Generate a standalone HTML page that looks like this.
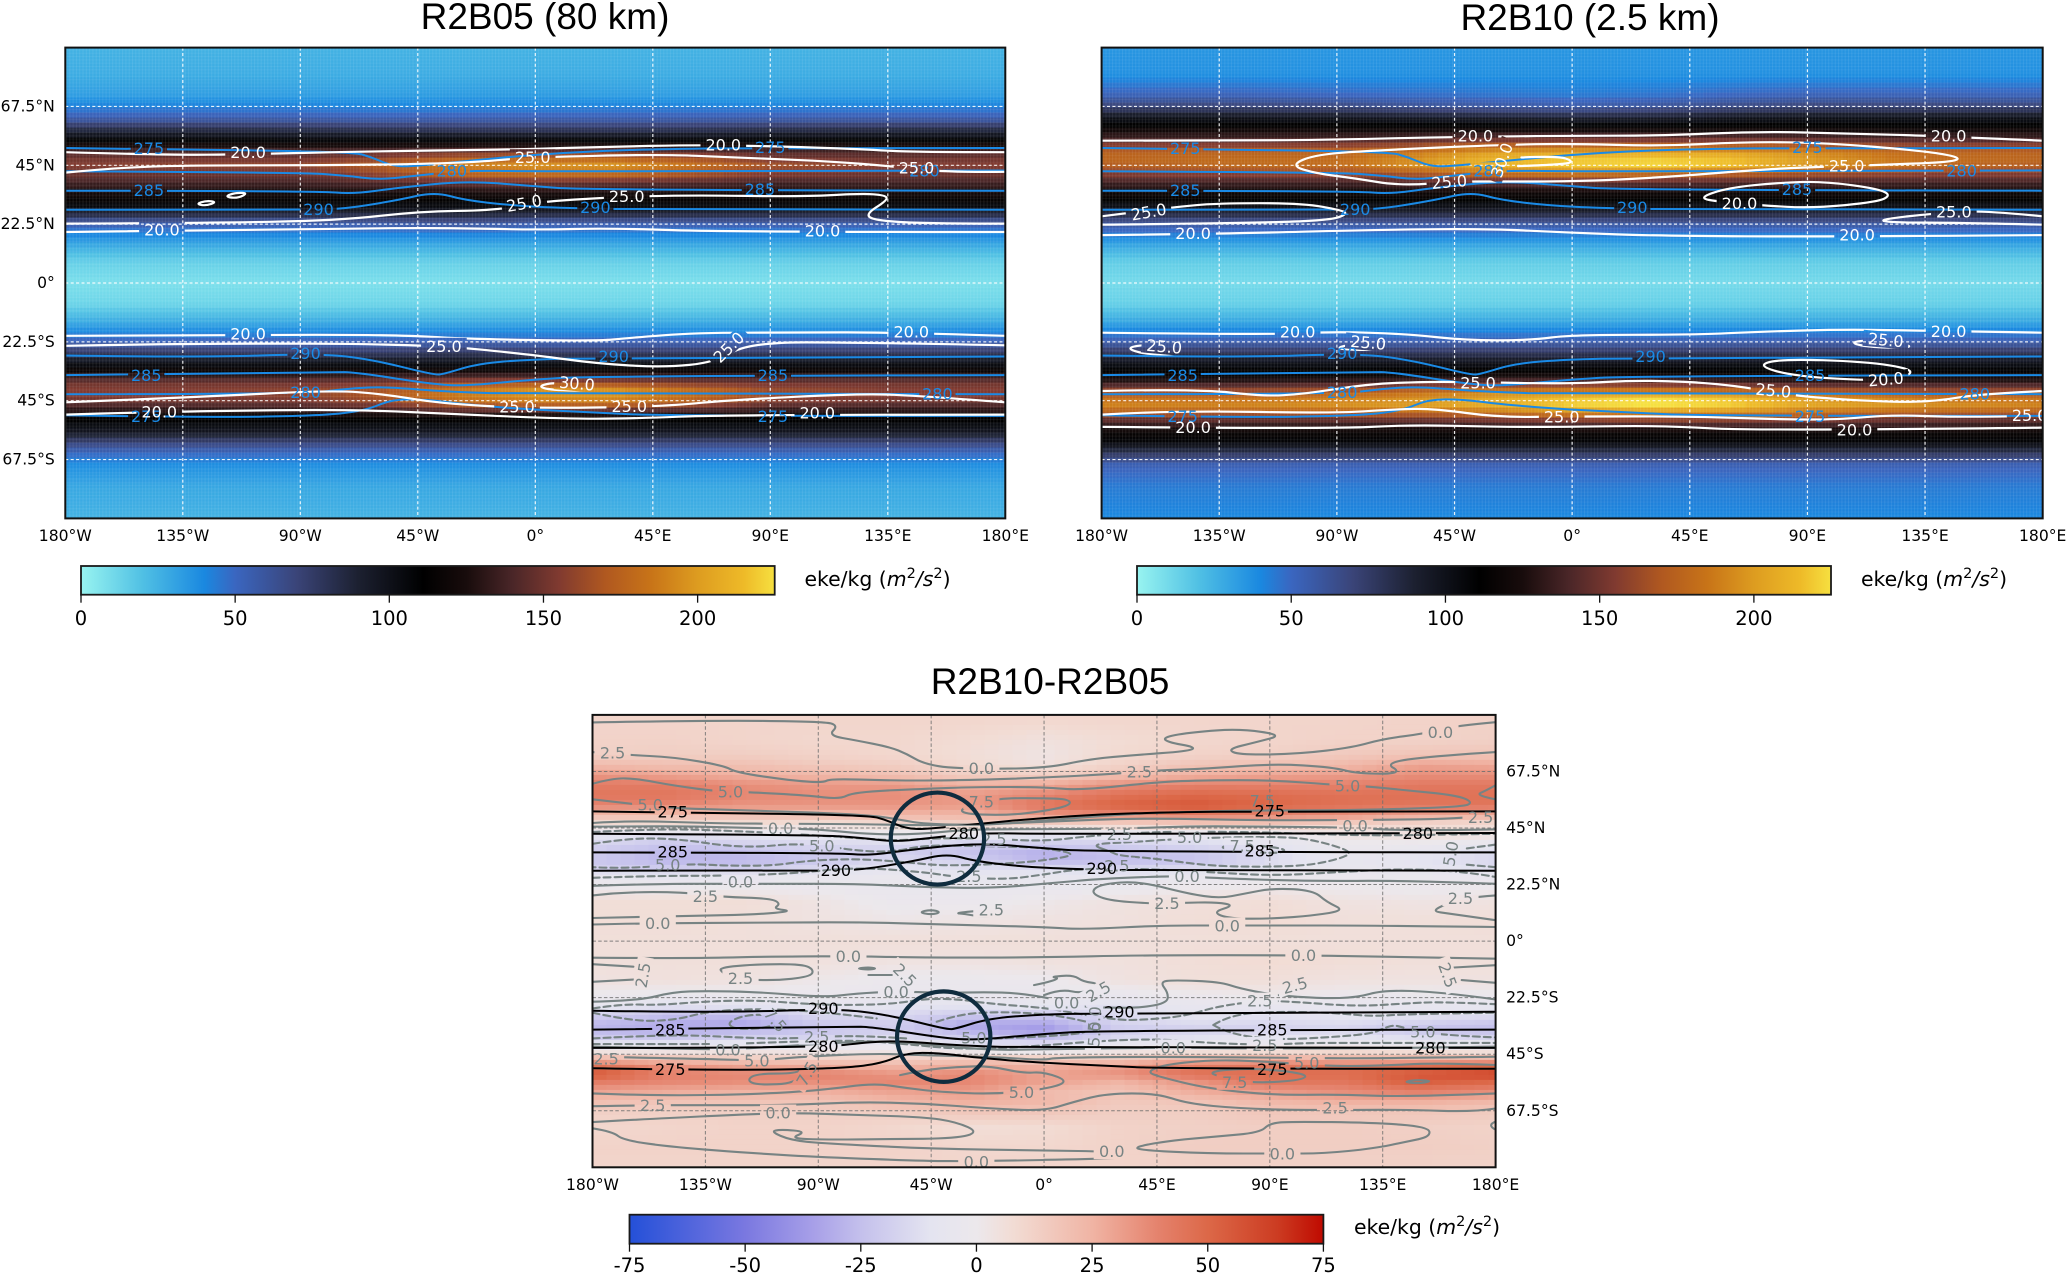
<!DOCTYPE html>
<html lang="en">
<head>
<meta charset="utf-8">
<title>EKE comparison R2B05 and R2B10</title>
<style>
html,body{margin:0;padding:0;background:#fff;}
body{width:2067px;height:1274px;overflow:hidden;}
svg{display:block;}
text{font-family:"DejaVu Sans","Liberation Sans",sans-serif;}
.title{font-family:"Liberation Sans",sans-serif;font-size:37px;fill:#000;text-anchor:middle;}
</style>
</head>
<body>
<svg id="figure" xmlns="http://www.w3.org/2000/svg" width="2067" height="1274" viewBox="0 0 2067 1274">
  <defs id="defs">
    <pattern id="mesh-lattice" patternUnits="userSpaceOnUse" width="3.3" height="3.3">
      <rect x="0" y="0" width="1" height="3.3" fill="#ffffff" fill-opacity="0.08"></rect>
      <rect x="0" y="0" width="3.3" height="1" fill="#ffffff" fill-opacity="0.05"></rect>
    </pattern>
  </defs>
  <rect width="2067" height="1274" fill="#fff"></rect>
  <text class="title" x="545" y="29">R2B05 (80 km)</text>
  <text class="title" x="1590" y="30">R2B10 (2.5 km)</text>
  <text class="title" x="1050" y="694">R2B10-R2B05</text>
</svg>
<script>
/* ---------- shared tick labels ---------- */
const lonTicks = [-180,-135,-90,-45,0,45,90,135,180];
const lonTickLabels = ['180°W','135°W','90°W','45°W','0°','45°E','90°E','135°E','180°E'];
const latTicks = [67.5,45,22.5,0,-22.5,-45,-67.5];
const latTickLabels = ['67.5°N','45°N','22.5°N','0°','22.5°S','45°S','67.5°S'];
const ekeBarTicks = [0,50,100,150,200];
const diffBarTicks = [-75,-50,-25,0,25,50,75];

/* ---------- colour scales (value, colour) ---------- */
const ekeStops = [[0,'#98f4f0'],[20,'#50c0e4'],[40,'#1a88e0'],[50,'#3a66c0'],[70,'#3a4478'],[90,'#1c2030'],[111,'#000000'],[125,'#180c0c'],[140,'#4a2628'],[155,'#803a30'],[170,'#b05820'],[185,'#c87418'],[200,'#dd9c20'],[215,'#eeba28'],[225,'#f6e040']];
const diffStops = [[-75,'#2450d8'],[-50,'#7a78e0'],[-35,'#a8a0e8'],[-25,'#c4c0ec'],[-10,'#e4e4f0'],[0,'#ece8ec'],[8,'#f2dcd4'],[25,'#f0b4a4'],[40,'#e4806a'],[50,'#dc6848'],[65,'#cc3c22'],[75,'#bf0a00']];

/* ---------- EKE fields: rows = ekeLats, columns = ekeLons ---------- */
const ekeLons = [-180,-135,-90,-60,-30,0,30,60,90,135,180];
const ekeLats = [90,80,72,67.5,63,59,55,51,48,45,42,39,35,31,27,23,19,14,8,0,-8,-14,-19,-23,-27,-31,-35,-38,-41,-44,-47,-50,-53,-57,-61,-65,-70,-78,-90];
const ekeR2B05 = [
[25,25,25,25,25,25,25,25,25,25,25],
[27,27,27,27,27,27,27,27,27,27,27],
[32,32,32,32,33,33,32,32,32,32,32],
[42,42,42,41,41,41,42,42,42,42,42],
[55,55,55,54,54,54,54,55,55,55,55],
[82,82,80,78,76,76,76,78,80,82,82],
[106,106,104,104,104,104,104,104,106,106,106],
[135,135,135,136,140,142,140,138,135,135,135],
[150,150,150,158,170,174,174,164,152,148,150],
[155,158,160,172,188,194,196,182,165,155,155],
[150,150,150,162,180,186,186,172,158,150,150],
[140,140,140,145,152,154,152,146,140,140,140],
[125,125,125,125,126,128,126,125,125,125,125],
[112,112,112,110,110,112,112,112,112,112,112],
[92,92,92,92,95,92,92,92,92,92,92],
[56,56,56,58,62,56,56,56,56,56,56],
[42,42,42,42,43,42,42,42,42,42,42],
[27,27,27,27,27,27,27,27,27,27,27],
[14,14,14,14,14,14,14,14,14,14,14],
[8,8,8,8,8,8,8,8,8,8,8],
[12,12,12,12,12,12,12,12,12,12,12],
[25,25,25,25,25,25,25,25,25,25,25],
[40,40,40,40,40,40,40,40,40,40,40],
[55,55,55,55,56,55,55,55,55,55,55],
[78,78,78,78,80,78,78,78,78,78,78],
[102,102,102,102,102,102,102,102,102,102,102],
[128,128,128,130,132,132,130,128,128,128,128],
[150,150,150,152,162,165,160,152,150,150,150],
[155,155,158,167,184,196,196,180,162,155,155],
[155,155,158,170,188,197,198,182,162,155,155],
[140,140,142,150,164,170,170,158,144,140,140],
[122,122,122,126,130,130,128,126,122,122,122],
[108,108,108,108,108,108,108,108,108,108,108],
[96,96,96,96,96,96,96,96,96,96,96],
[70,70,70,70,70,70,70,70,70,70,70],
[50,50,50,50,50,50,50,50,50,50,50],
[37,37,37,37,37,37,37,37,37,37,37],
[29,29,29,29,29,29,29,29,29,29,29],
[25,25,25,25,25,25,25,25,25,25,25]
];
const ekeR2B10 = [
[35,35,35,35,35,35,35,35,35,35,35],
[37,37,37,37,37,37,37,37,37,37,37],
[52,52,50,48,46,44,46,50,52,52,52],
[70,70,68,62,58,56,60,66,70,70,70],
[100,100,98,95,92,90,92,98,100,100,100],
[118,118,118,118,118,118,118,118,118,118,118],
[138,138,140,142,148,150,150,148,145,140,138],
[170,170,170,178,190,192,192,190,185,172,170],
[178,180,180,195,212,218,220,216,200,182,178],
[172,178,180,195,210,218,222,216,198,178,172],
[158,160,162,172,185,190,185,178,170,160,158],
[140,140,140,145,150,152,150,145,142,140,140],
[122,122,122,122,122,122,122,122,122,122,122],
[108,108,108,108,108,108,108,108,108,108,108],
[90,90,90,90,90,90,90,90,90,90,90],
[60,60,60,60,60,60,60,60,60,60,60],
[45,45,45,45,45,45,45,45,45,45,45],
[28,28,28,28,28,28,28,28,28,28,28],
[15,15,15,15,15,15,15,15,15,15,15],
[10,10,10,10,10,10,10,10,10,10,10],
[14,14,14,14,14,14,14,14,14,14,14],
[27,27,27,27,27,27,27,27,27,27,27],
[43,43,43,43,43,43,43,43,43,43,43],
[57,57,57,57,57,57,57,57,57,57,57],
[80,80,80,80,80,80,80,80,80,80,80],
[102,102,102,102,102,102,102,102,102,102,102],
[115,115,115,118,120,120,118,116,115,115,115],
[132,132,135,140,145,145,142,138,134,132,132],
[160,160,165,175,182,185,185,178,168,160,160],
[182,182,188,195,205,218,225,218,200,185,182],
[190,190,195,200,208,220,226,220,205,195,190],
[168,168,170,172,178,188,192,188,178,170,168],
[140,140,140,142,146,150,152,150,146,142,140],
[118,118,118,118,118,118,118,118,118,118,118],
[106,106,106,106,106,106,106,106,106,106,106],
[78,78,78,78,78,78,78,78,78,78,78],
[52,52,52,52,52,52,52,52,52,52,52],
[44,44,44,44,44,44,44,44,44,44,44],
[40,40,40,40,40,40,40,40,40,40,40]
];
/* ---------- difference field ---------- */
const diffLons = [-180,-150,-120,-90,-60,-30,0,30,60,90,120,150,180];
const diffLats = [90,80,74,70,66,62,58,54,50,47,44,41,38,35,32,29,26,22,16,8,0,-8,-16,-22,-26,-29,-32,-35,-38,-41,-44,-47,-50,-53,-56,-60,-64,-68,-74,-82,-90];
const diffField = [
[11,11,11,11,11,11,11,11,11,11,11,12,12],
[12,12,11,10,10,8,5,8,10,11,12,12,13],
[13,14,14,12,10,7,3,9,12,13,16,18,18],
[22,20,20,16,14,9,5,12,18,20,23,30,28],
[34,30,26,24,20,14,14,20,26,30,32,36,36],
[42,42,36,33,33,26,28,36,40,40,40,43,43],
[44,44,38,36,36,32,38,46,50,48,46,46,46],
[38,38,34,34,34,32,44,52,56,50,46,44,44],
[20,20,20,20,23,23,32,36,40,38,34,28,25],
[8,8,8,8,10,14,15,16,18,18,15,12,10],
[-2,-2,0,0,2,3,-2,0,2,3,5,5,5],
[-10,-15,-12,-10,-6,-10,-12,-10,-8,-4,2,4,2],
[-18,-24,-20,-16,-16,-20,-22,-20,-16,-10,-2,-2,-8],
[-20,-28,-26,-20,-18,-24,-30,-24,-22,-14,-4,-8,-14],
[-22,-28,-28,-22,-14,-18,-28,-26,-24,-14,-6,-10,-15],
[-18,-20,-18,-15,-10,-12,-14,-16,-14,-8,-4,-8,-12],
[-6,-8,-8,-6,-3,-6,-6,-8,-5,-3,-3,-4,-5],
[-1,-2,-2,-2,-4,-5,-4,-4,-1,0,-1,-2,-1],
[7,7,7,3,-2,-2,1,4,6,7,4,3,4],
[7,7,6,4,2,3,4,5,7,8,6,6,7],
[6,6,6,6,6,6,6,6,6,6,6,6,6],
[6,6,6,5,4,4,5,5,7,8,7,6,6],
[4,5,4,1,-2,-2,-1,4,6,6,4,4,4],
[-1,-3,-3,-3,-3,-4,-3,-4,-1,0,-1,-2,-1],
[-8,-12,-10,-8,-10,-10,-8,-12,-6,-6,-6,-6,-8],
[-16,-24,-24,-14,-14,-20,-20,-14,-8,-10,-8,-8,-12],
[-25,-30,-32,-20,-18,-30,-30,-16,-12,-14,-12,-16,-20],
[-28,-32,-30,-24,-20,-32,-38,-20,-18,-18,-16,-24,-26],
[-22,-24,-20,-18,-14,-22,-28,-16,-12,-10,-10,-14,-18],
[-8,-8,-6,-6,-6,-10,-12,-6,-4,-2,-2,-4,-6],
[2,2,3,2,2,0,-2,2,5,6,8,6,4],
[26,20,16,14,14,16,15,18,26,28,26,26,28],
[46,36,30,28,25,28,26,32,42,44,44,46,50],
[56,40,38,40,34,38,30,35,46,48,48,56,62],
[42,38,36,36,38,38,30,25,34,44,44,54,50],
[30,27,25,26,30,32,22,18,27,32,36,40,36],
[20,18,18,18,23,26,23,16,18,23,26,26,23],
[13,13,13,13,14,17,17,14,14,17,17,17,15],
[10,11,12,12,10,7,8,12,13,14,14,13,12],
[12,12,12,12,12,10,10,12,14,14,14,14,13],
[11,11,11,11,11,11,11,11,12,12,12,12,12]
];

/* ---------- potential temperature contours [lon,lat] (shared by all panels) ---------- */
const thetaContours = [
[[-180,51.6],[-148,51.2],[-70.3,50.2],[-62.7,48.1],[-55,44.8],[-47.5,44.5],[-27,46.6],[-2,48.9],[23.6,50.5],[49,51.2],[89.6,51.7],[180,51.6]],
[[-180,42.7],[-90.6,42.3],[-73,41.1],[-60,39.5],[-47.5,40.8],[-27,43],[-2,42.7],[49,42.7],[180,43]],
[[-180,35.3],[-83,35.2],[-70,34],[-52.5,36.4],[-27,39],[-2,37.2],[18.5,35.5],[180,35.3]],
[[-180,28],[-90,27.9],[-73,28.3],[-52.5,31.7],[-38.6,34.8],[-27,31.7],[-9.4,29.7],[11,28.6],[49,28],[180,28]],
[[-180,-27.7],[-128,-28.5],[-83,-26.9],[-62.7,-29.2],[-38.6,-35.2],[-35,-34.8],[-22,-30.8],[-2,-29.2],[23.6,-28.7],[180,-28.1]],
[[-180,-35.2],[-78,-33.9],[-68,-34.2],[-40,-38.6],[-27,-39.4],[-2,-37],[23.6,-35.5],[180,-35.2]],
[[-180,-42.5],[-90,-42.5],[-70,-40.2],[-57.6,-39.7],[-32,-41.7],[-2,-42.5],[180,-42.5]],
[[-180,-50.6],[-128.7,-51.4],[-83,-50.8],[-65,-48.8],[-55,-44.5],[-42,-44.5],[-27,-46.4],[-2,-48.4],[23.6,-49.5],[49,-50.8],[180,-50.8]]
];
const thetaLabels = [
['275',-148,51.6],['275',90,52],['280',-32,43.1],['280',149,43],['285',-148,35.6],['285',86,36],['290',-83,28.3],['290',23,29],
['290',-88,-26.7],['290',30,-28],['285',-149,-35.2],['285',91,-35.2],['280',-88,-41.7],['280',154,-42.3],['275',-149,-50.8],['275',91,-50.8]
];

/* ---------- R2B05 wind speed contours [lon,lat] ---------- */
const windR2B05 = [
[[-180,50],[-141,48.9],[-110,49.2],[-70.3,50.2],[-27,50.8],[-2,51.2],[23.6,52],[64,52.8],[89.6,52.3],[125,51.2],[145,50],[180,50]],
[[-180,42.2],[-159,44.2],[-129,45],[-78,45],[-27,45.8],[-2,48.1],[49,49.2],[74,48.1],[112,46.6],[138,44.5],[158,42.3],[180,42.5]],
[[-180,22.7],[-128,22.9],[-75,23.9],[-45,27.3],[-14.5,27.8],[0.8,31],[28.7,32.8],[59,33.6],[102,33],[125,34.2],[134,33.6],[135,31.7],[126.4,26.3],[130,23.9],[150.5,22.7],[180,22.7]],
[[-180,19.5],[-78,20.8],[-32,21.1],[0.8,20.3],[28.7,21],[74,19.5],[180,19.5]],
[[-130,30.2],[-126,31.5],[-122,31],[-126,29.5],[-130,30.2]],
[[-119,33],[-115,34.5],[-110,34.4],[-114,32.4],[-119,33]],
[[-180,-20.2],[-116,-19.8],[-52.5,-19.8],[-27,-21.4],[23.6,-22.2],[36,-21],[61.7,-19],[100,-19],[135,-18.8],[180,-20.2]],
[[-180,-24],[-128,-23],[-42,-23.4],[-2,-27.3],[23.6,-30.8],[49,-32.3],[69,-30.3],[82,-22.7],[125,-22.7],[180,-23.8]],
[[-180,-45.6],[-128.7,-43.6],[-78,-41],[-57.6,-42.5],[-37,-46],[-2,-48],[49,-47.2],[74,-44.8],[125,-42.2],[150,-43.3],[180,-45.6]],
[[-180,-50.3],[-153,-49.5],[-116,-48.8],[-68,-48.4],[-27,-50.3],[11,-51.9],[36,-51.9],[74,-50.3],[180,-50.3]],
[[0.8,-39.4],[8.4,-37.8],[23.6,-40],[23.6,-41.2],[5.8,-41],[0.8,-39.4]]
];
const windLabelsR2B05 = [
['20.0',-110,50,0],['25.0',-1,48.1,0],['20.0',72,53,0],['25.0',146,44.2,0],['25.0',-4.3,30.6,-10],['25.0',35,33.3,0],['20.0',-143,20.5,0],['20.0',110,20,0],
['20.0',-110,-19.4,0],['25.0',-35,-24,0],['25.0',74,-24.5,-45],['20.0',144,-18.6,0],['30.0',16,-38.3,5],['25.0',-7,-47.3,0],['25.0',36,-47,0],['20.0',-144,-49.2,0],['20.0',108,-49.5,0]
];

/* ---------- R2B10 wind speed contours [lon,lat] ---------- */
const windR2B10 = [
[[-180,54.4],[-128,54.4],[-91,54.8],[-43,55.9],[0,56.3],[34,56.3],[72,58],[109.6,57],[137,56.3],[180,54.4]],
[[-108,45],[-98,49.2],[-73,50.8],[-28,52.8],[0,53.3],[34,52.3],[67,54],[97,53.6],[134.6,50.5],[149,48],[145,46.2],[122,45.3],[97,44.5],[72,43.4],[34,40.3],[0,38.8],[-28,38.8],[-43,38.8],[-66,37.2],[-83,40],[-98,41.9],[-108,45]],
[[-19.4,48],[-5.6,48.6],[0.6,46.6],[-3,45.3],[-20.7,44.7]],
[[-180,25.5],[-168,27],[-153,28.9],[-136,30.5],[-103,30.5],[-88,27.8],[-86,26.3],[-93,23.9],[-128,22.8],[-180,22.3]],
[[180,25.5],[157,27.8],[139.6,26.7],[117,24.2],[122,23.1],[147,23.1],[180,22.3]],
[[48,32.5],[59.5,36.4],[79.5,38.4],[97,38.8],[117,36],[122,33.6],[117,31],[92,28.6],[72,29.7],[57,31],[48,32.5]],
[[-180,18.3],[-128,18.9],[-78,20.3],[-33,20.8],[0,19.2],[34,18],[99.5,17.7],[180,18.3]],
[[-180,-19],[-116,-19.8],[-91,-18.6],[-63,-19.5],[-41,-21.9],[-16,-21.9],[0,-19.8],[47,-19.8],[72,-18.6],[104.6,-17.7],[137,-18.3],[180,-19]],
[[-171,-24.8],[-162,-23.4],[-150,-25.3],[-150,-27.3],[-163.5,-27.3],[-171,-24.8]],
[[-92,-25.3],[-83,-23],[-72,-22.2],[-73,-25.8],[-92,-25.3]],
[[106,-22.7],[114.6,-21.7],[129.6,-23.8],[128,-24.8],[113,-24.5],[106,-22.7]],
[[70.7,-31.6],[79.5,-29],[112,-30],[131,-33],[127,-36.3],[112,-37.3],[84.5,-35.5],[70.7,-31.6]],
[[-180,-41.3],[-143,-40.5],[-118,-43.3],[-103,-42.5],[-78,-38.6],[-56,-37.8],[-43,-37.8],[0,-38.6],[27,-37],[59.5,-38.6],[84.5,-43.3],[122,-45.6],[139.6,-45.2],[155,-42.5],[180,-41.3]],
[[-180,-50.3],[-153,-48.8],[-91,-49.8],[-68,-48.3],[-53,-48],[-28,-51.4],[0,-51],[47,-51],[97,-52.7],[122,-50.3],[147,-51.4],[180,-50.8]],
[[-180,-55],[-91,-55.8],[-63,-54.2],[-28,-55],[0,-55],[34,-54.5],[72,-56.6],[180,-55.3]]
];
const windLabelsR2B10 = [
['20.0',-37,56.3,0],['20.0',144,56.3,0],['25.0',105,45,0],['30.0',-27,47,-70],['25.0',-47,38.8,-5],['25.0',-162,27.3,-10],['20.0',64,30.6,0],['25.0',146,27.3,0],['20.0',-145,19.2,0],['20.0',109,18.6,0],
['20.0',-105,-18.6,0],['25.0',-156,-24.2,5],['25.0',-78,-22.7,5],['25.0',120,-21.7,5],['20.0',144,-18.3,0],['20.0',120,-36.7,-5],['25.0',-36,-38.1,0],['25.0',77,-41,5],['25.0',-4,-51,0],['25.0',175,-50.5,0],['20.0',-145,-55,0],['20.0',108,-56,0]
];

/* ---------- difference contours: solid (positive / zero) [lon,lat] ---------- */
const diffSolid = [
[[-180,87],[-135.6,87.8],[-88,87.4],[-82,85.8],[-86,81.8],[-74.7,79.8],[-61.4,77.2],[-54.7,74.5],[-48,70.6],[-36,68.6],[0,68.6],[18.3,72.5],[37,74.1],[56.9,75.5],[60.9,77.1],[48.9,79.2],[47.6,81.2],[59.5,83.2],[78,84.5],[95.4,82],[84.8,79.2],[72.8,76.3],[78,74.1],[102,74.5],[123.3,77.1],[135.3,80.5],[151.2,82.5],[164.5,85.8],[180,87.1]],
[[-180,75.2],[-166.5,74.1],[-147.8,73.2],[-127.8,69.9],[-122.5,67],[-101,63.9],[-88,63],[-85.3,64.6],[-61.4,63.9],[-34.8,63.9],[0,65],[31.6,66.8],[44.9,67.9],[64.8,68.6],[91.4,70.6],[115.3,69.2],[124.6,66.6],[143.2,66.6],[135.3,71.2],[159,73.9],[180,75.2]],
[[-180,62.6],[-171.8,64.9],[-162.4,64.6],[-147.8,61.9],[-130.5,59.6],[-118.5,59.3],[-94.6,58],[-81.3,56.4],[-76,59.3],[-48,60.6],[-28,61.3],[0,61.3],[14.4,60],[45,63.3],[64.8,64],[91.4,64],[115.3,62.2],[127.3,61.7],[144.6,60],[164.5,58],[171,55.3],[167,53.3],[120,52],[85,52],[57,51.5],[32,50.5],[0,48],[-25,46],[-48,46.7],[-56,48],[-68,50],[-94.6,51.3],[-121,52],[-150.4,53],[-167.7,55],[-180,56.4]],
[[180,62],[176.4,60],[171.8,58],[180,56.4]],
[[-34,50.7],[-31,54],[-25,54],[-19,56.8],[0,56.9],[10,56.4],[10.5,54],[0,51.7],[-15,50],[-34,50.7]],
[[-180,47],[-165,48],[-130,46.8],[-100,46.7],[-70,46.5],[-45,46],[-15,46.8],[0,47.5],[40,49],[85,48],[130,48.2],[170,48.7],[180,50.7]],
[[-180,45.5],[-150,45.8],[-128,45.3],[-105,44.8],[-90,44.5],[-70,42.5],[-50,42.5],[-30,44.5],[0,44.5],[30,44.7],[60,45.8],[90,45.5],[120,45.3],[145,43.8],[180,44.5]],
[[-180,22],[-154,22.8],[-128,22.8],[-108,22.8],[-75,22.8],[-48,21.5],[-21.5,21],[0,22.8],[25,25],[57,26],[65,25.2],[105,23.8],[144.6,24.1],[180,22.8]],
[[-180,18.2],[-168,19.5],[-144,19.5],[-128,17.5],[-109,17],[-105,14.9],[-108,12.9],[-100,11.9],[-114.5,10.6],[-141,10],[-180,9.2]],
[[-180,6.6],[-154,7.2],[-114.5,7.3],[-74.7,7.6],[-35,6.5],[0,5.6],[16,4.6],[45,6.2],[73,6.2],[91.4,6.2],[131,6.2],[180,5.6]],
[[-50,11.5],[-45,12.5],[-41,11.5],[-45,10.5],[-50,11.5]],
[[-35.5,11.1],[-25.5,12.2],[-16,10.9],[-24,9.5],[-32,10.9],[-35.5,11.1]],
[[18.3,19.5],[23,22.8],[38.3,23.8],[57.5,18.8],[70,17],[79.5,18.8],[91.4,21.1],[107.3,20.2],[112.7,15.5],[120,12.2],[107.3,10.2],[91.4,8.9],[74,8.9],[67,11.5],[76,14.2],[68.8,15.5],[54,15.2],[43,14.9],[25,16.2],[18.3,19.5]],
[[180,18.2],[166,17.1],[160.5,14.9],[154.5,11.9],[161.8,10.9],[180,8.3]],
[[-180,-6.6],[-141,-6.9],[-114.5,-6.2],[-78,-6],[-48,-6.6],[0,-6.5],[38,-5.6],[103.4,-5.6],[131,-6.2],[180,-7]],
[[-180,-9.2],[-163.7,-10.2]],
[[-163.7,-15.3],[-180,-16.2]],
[[180,-9.6],[163.5,-10.5]],
[[166.5,-15.5],[180,-16.6]],
[[-129.8,-10.5],[-114.5,-9.2],[-96,-9.2],[-91.7,-11.5],[-93.3,-14.2],[-108,-15.8],[-125,-14.9],[-127.8,-12.9],[-129.8,-10.5]],
[[-75,-10.9],[-70,-10.4],[-66.5,-10.9],[-70,-11.4],[-75,-10.9]],
[[-70,-13.5],[-60.7,-13.5]],
[[-4,-17.5],[0,-16.8],[6.4,-14.8],[2.4,-14.2],[11.7,-13.5],[15.7,-16.2],[22.3,-16.9],[15.7,-21],[6.4,-19],[0,-21.5]],
[[-180,-24.1],[-161.5,-23.7],[-148,-20.2],[-134.6,-19.8],[-114.5,-20.2],[-88,-22.4],[-74.7,-20.8],[-59,-20],[-41.5,-20.6],[-15,-20.2],[0,-22.2],[9,-24.5],[14.4,-26.1],[36.3,-26.8],[48.9,-24.8],[49.6,-20.8],[46.2,-16.2],[51.6,-15.5],[70,-16.2],[78,-18.8],[91.4,-21.5],[111,-22.8],[124.6,-22.5],[135.3,-19.5],[157.9,-20.2],[180,-23.2]],
[[-180,-42],[-154,-42.7],[-126,-43.2],[-98.6,-41.5],[-74.7,-40],[-61.4,-40],[-48,-41],[-21.5,-43.4],[0,-43],[51.5,-42.3],[78,-42.7],[131,-42.7],[180,-42]],
[[-180,-46],[-128,-47],[-114.5,-47.6],[-96,-46],[-68,-44.7],[-48,-45.4],[-21.5,-46],[0,-47.4],[5,-46.3],[51.5,-46],[100,-46.5],[131,-46.7],[180,-46]],
[[-180,-60.6],[-154,-61.6],[-114.5,-60.9],[-88,-59.3],[-68,-56.5],[-55,-58.5],[-41.5,-60],[-21.5,-60.9],[-1.6,-59.3],[10.6,-56],[0,-52],[-8.2,-52.6],[-21.5,-49.7],[-34.8,-50],[-48,-51.3],[-57.4,-53.3]],
[[-118.5,-55.3],[-114.5,-52.7],[-98.6,-52.7],[-96,-50],[-98.6,-56.6],[-114.5,-57.3],[-118.5,-55.3]],
[[-180,-65.7],[-156,-65.3],[-141,-65.3],[-101,-65.3],[-74.7,-64],[-48,-64.6],[-21.5,-66.6],[0,-67.6],[11.7,-64],[25,-60.6],[45,-60.6],[56.9,-64.6],[78,-66.6],[105,-67.3],[144.6,-67],[171,-68],[180,-66.6]],
[[180,-60.6],[144.6,-62],[118,-61],[91.4,-61.3],[65,-58.6],[46,-54],[41,-52],[47.6,-49.3],[64.8,-47.4],[83,-47.5],[111,-49.7],[131,-49.7],[157.9,-48.4],[180,-49.3]],
[[66,-52.7],[70,-51.3],[84.8,-50.6],[104.7,-52.7],[103.4,-55.3],[83.4,-56.6],[71.5,-54],[66,-52.7]],
[[143,-56],[149,-55.2],[155,-55.7],[149,-56.7],[143,-56]],
[[-180,-72],[-154.4,-70.6],[-120,-69],[-98.6,-68.3],[-74.7,-69.2],[-48,-70],[-34.8,-72],[-26,-76],[-34.8,-78.5],[-61.4,-78.8],[-88,-79],[-101.4,-78.5],[-94.6,-75.8],[-105,-74.9],[-109,-75.8],[-101,-79.2],[-88,-80.5],[-48,-82.5],[0,-83.4],[27,-83.6],[38.3,-86.6],[0,-87]],
[[-180,-74.5],[-172,-75.8],[-167.7,-79.2],[-147.8,-82],[-114.5,-84.5],[-88,-86],[-48,-87.5],[-27,-87.6],[0,-87.1]],
[[36.3,-81.8],[51.5,-79.2],[68.8,-77.8],[86,-76.2],[90,-72.5],[98,-71.8],[131.3,-72.2],[153.2,-73.9],[154,-77.8],[144.6,-79.8],[131.3,-82.5],[111.3,-84.5],[95,-84.5],[65,-84.5],[38.3,-83.2],[36.3,-81.8]],
[[180,-71.8],[176.4,-73.2],[180,-75]]
];
/* ---------- difference contours: dashed (negative) [lon,lat] ---------- */
const diffDashed = [
[[-180,43.4],[-154,44.7],[-128,44],[-101,42.7],[-75,41],[-59,40],[-48,40.7],[-35,41],[-20,40.7],[0,39.7],[18,41.8],[35,43],[54,43.6],[83,43.4],[105,42.7],[131,42],[155,42.3],[180,42.7]],
[[-180,38.7],[-168,40.5],[-154.4,41],[-141,40],[-128,38],[-114.5,37.4],[-101,38.7],[-88,38],[-75,36],[-61,35.4],[-48,38],[-35,38],[-10,37.5],[0,37],[14,34.5],[0,32],[-20,30.5],[-41.5,30],[-55,31.4],[-74.7,32.8],[-94.6,32],[-108,30],[-128,30],[-141,30.8],[-167.7,28.8],[-180,29.4]],
[[18,38.6],[35.6,39.4],[54,40.7],[78,41.4],[99.4,41.4],[111,39.4],[123.3,35.4],[118,32.8],[105,30],[85,29.5],[65,30],[45,32.8],[30,34],[27,35.4],[18,38.6]],
[[69,37.4],[78,38.7],[97,36.8],[94,34.8],[78,35.7],[69,37.4]],
[[180,38.4],[168,36.8]],
[[168.5,30.4],[180,29.4]],
[[-180,25.2],[-154,26],[-128,26],[-101,26.8],[-75,29.4],[-48,27.5],[-35,25.5],[-15,24.5],[0,26.5],[14.4,28.8],[38,28.8],[65,27.5],[91.4,26],[118,27.5],[144.6,28.8],[169,27.5],[180,25.5]],
[[-180,-26.8],[-168,-25],[-154,-25.5],[-135,-24],[-115,-23.5],[-95,-25],[-80,-25.5],[-60,-25],[-48,-23],[-35,-23],[-21,-25],[0,-26.5],[14,-29],[30,-31.4],[38,-31.4],[55.5,-30],[69,-26],[86,-23.7],[99.4,-24.1],[124.6,-26],[144.6,-24.8],[157.9,-24.1],[180,-25.1]],
[[-180,-28.5],[-163.7,-32],[-147,-31.4],[-134.6,-28.1],[-114.5,-26.8],[-88,-28.1],[-66.7,-30.8]],
[[-180,-38.7],[-161.5,-37.8],[-141,-37.4],[-114.5,-38.7],[-98.6,-38.7],[-74.7,-37.4],[-55,-38.7]],
[[-42.8,-32.1],[-34.8,-29.4],[-21.5,-28.1],[0,-28.8],[14.4,-31.4],[20,-33],[18,-36.5],[0,-38],[-20,-38.7],[-34.8,-40]],
[[-126.5,-32.8],[-121,-29.9],[-112,-29],[-105,-31],[-109,-34.4],[-122.5,-35.2],[-126.5,-32.8]],
[[-180,-41],[-154,-41],[-128,-41],[-100,-40],[-75,-39.5],[-60,-40.5],[-35,-43],[-15,-42.5],[0,-41.5],[25,-39.5],[47,-39],[65,-40.5],[88,-41.3],[105,-40.5],[125,-40.5],[150,-40.5],[180,-40.5]],
[[67.5,-33.4],[74,-29.4],[91.4,-28],[115,-28.5],[131,-30],[145,-29],[180,-28.5]],
[[67.5,-33.4],[73,-36.7],[91.4,-39.4],[118,-38],[131,-36.7],[135.3,-34.7],[139.3,-33.4],[143.2,-34.4],[156.5,-37.4],[180,-38.3]]
];
const diffGrayLabels = [
['0.0',-25,68.9,0],['2.5',-172,75,0],['5.0',-125,59.5,0],['5.0',-157,54.4,0],['0.0',-105,45,0],['7.5',-25,55.6,0],['5.0',-88.6,38,0],['5.0',-150,30.5,0],['0.0',-121,23.8,0],['2.5',-135,18,0],['0.0',-154,7.2,0],['2.5',-21,12.6,0],['2.5',-30,26,0],['2.5',-20,40.7,0],
['2.5',38,67.5,0],['5.0',121,62,0],['0.0',158,83.2,0],['7.5',87,56,0],['2.5',174,49.4,0],['0.0',124,46,0],['2.5',30,42.7,0],['5.0',58,41.4,0],['7.5',79,38,0],['5.0',162,34.8,-80],['2.5',29,30,0],['0.0',57,26,0],['2.5',49,15.1,0],['0.0',73,6.2,0],['2.5',166,17.1,0],
['0.0',-78,-6,0],['2.5',-160,-13.5,-80],['2.5',-121,-14.6,0],['2.5',-55.4,-13.5,45],['0.0',-59,-20,0],['7.5',-107,-31.4,50],['2.5',-90.6,-38,0],['5.0',-28,-38.3,0],['0.0',-126,-43.2,0],['2.5',-174.6,-46.7,0],['5.0',-114.5,-47.6,0],['7.5',-94.6,-52.7,-60],['5.0',-9,-60,0],['2.5',-156,-65.3,0],['0.0',-106,-68.2,0],['0.0',-27,-87.6,0],
['0.0',103.4,-5.6,0],['2.5',161,-13.5,70],['2.5',21.6,-20,-30],['2.5',100,-17.5,-15],['0.0',9,-24.5,0],['2.5',86,-23.7,0],['5.0',20,-31,-85],['5.0',20,-37,-85],['5.0',151,-36,0],['2.5',88,-41.3,0],['0.0',51.5,-42.3,0],['5.0',104.7,-48.4,0],['7.5',76,-56,0],['2.5',116,-66.3,0],['0.0',27,-83.6,0],['0.0',95,-84.5,0]
];
/* ---------- highlighted regions [lon, lat, lon radius, lat radius] ---------- */
const focusCircles = [[-42.5,40.8,18.6,18.3],[-40,-38,18.6,18]];

/* ---------- rendering ---------- */
const NS = 'http://www.w3.org/2000/svg';
const fig = document.getElementById('figure');
const defs = document.getElementById('defs');
function node(tag, attrs, parent){
  const el = document.createElementNS(NS, tag);
  for (const k in attrs) el.setAttribute(k, attrs[k]);
  (parent || fig).appendChild(el);
  return el;
}
function makeAxes(left, right, top, bottom){
  return {
    left, right, top, bottom,
    x: lon => left + (lon + 180) / 360 * (right - left),
    y: lat => top + (90 - lat) / 180 * (bottom - top),
    lonAt: px => (px - left) / (right - left) * 360 - 180,
    latAt: py => 90 - (py - top) / (bottom - top) * 180
  };
}
function hexToRgb(h){ return [parseInt(h.substr(1,2),16),parseInt(h.substr(3,2),16),parseInt(h.substr(5,2),16)]; }
function colorFor(stops, v){
  if (v <= stops[0][0]) return stops[0][1];
  const last = stops[stops.length-1];
  if (v >= last[0]) return last[1];
  for (let i = 1; i < stops.length; i++){
    if (v <= stops[i][0]){
      const t = (v - stops[i-1][0]) / (stops[i][0] - stops[i-1][0]);
      const a = hexToRgb(stops[i-1][1]), b = hexToRgb(stops[i][1]);
      return 'rgb(' + Math.round(a[0]+(b[0]-a[0])*t) + ',' + Math.round(a[1]+(b[1]-a[1])*t) + ',' + Math.round(a[2]+(b[2]-a[2])*t) + ')';
    }
  }
  return last[1];
}
function bracket(arr, v){
  const asc = arr[arr.length-1] > arr[0];
  for (let i = 0; i < arr.length - 1; i++){
    const inside = asc ? (v >= arr[i] && v <= arr[i+1]) : (v <= arr[i] && v >= arr[i+1]);
    if (inside) return [i, (v - arr[i]) / (arr[i+1] - arr[i])];
  }
  return v === arr[0] ? [0,0] : [arr.length-2,1];
}
function sampleField(lats, lons, field, lat, lon){
  const [r, tr] = bracket(lats, lat);
  const [c, tc] = bracket(lons, lon);
  const a = field[r][c]*(1-tc) + field[r][c+1]*tc;
  const b = field[r+1][c]*(1-tc) + field[r+1][c+1]*tc;
  return a*(1-tr) + b*tr;
}
function drawHeat(ax, lats, lons, field, stops, group){
  const stepX = 14, stepY = 5;
  for (let py = ax.top; py < ax.bottom; py += stepY){
    for (let px = ax.left; px < ax.right; px += stepX){
      const v = sampleField(lats, lons, field, ax.latAt(py + stepY/2), ax.lonAt(px + stepX/2));
      const cell = node('rect', {x:px.toFixed(1), y:py.toFixed(1), width:stepX+0.6, height:stepY+0.6, fill:colorFor(stops, v)}, group);
      
      
    }
  }
}
function drawLattice(ax, group){
  const mesh = node('rect', {x:ax.left, y:ax.top, width:ax.right-ax.left, height:ax.bottom-ax.top, fill:'url(#mesh-lattice)'}, group);
  
  
}
function contourPath(ax, pts){
  const p = pts.map(q => [ax.x(q[0]), ax.y(q[1])]);
  if (p.length < 3) return 'M' + p.map(q => q[0].toFixed(1)+' '+q[1].toFixed(1)).join('L');
  const closed = pts[0][0] === pts[pts.length-1][0] && pts[0][1] === pts[pts.length-1][1];
  const mid = (a,b) => [(a[0]+b[0])/2,(a[1]+b[1])/2];
  let d;
  if (closed){
    const q = p.slice(0,-1), n = q.length, s = mid(q[n-1],q[0]);
    d = 'M'+s[0].toFixed(1)+' '+s[1].toFixed(1);
    for (let i = 0; i < n; i++){
      const m = mid(q[i],q[(i+1)%n]);
      d += 'Q'+q[i][0].toFixed(1)+' '+q[i][1].toFixed(1)+' '+m[0].toFixed(1)+' '+m[1].toFixed(1);
    }
    return d+'Z';
  }
  d = 'M'+p[0][0].toFixed(1)+' '+p[0][1].toFixed(1);
  for (let i = 1; i < p.length-1; i++){
    const m = i === p.length-2 ? p[i+1] : mid(p[i],p[i+1]);
    d += 'Q'+p[i][0].toFixed(1)+' '+p[i][1].toFixed(1)+' '+m[0].toFixed(1)+' '+m[1].toFixed(1);
  }
  return d;
}
let maskCount = 0;
function labelMask(ax, labels){
  const id = 'label-mask-' + (++maskCount);
  const m = node('mask', {id, maskUnits:'userSpaceOnUse', x:0, y:0, width:2067, height:1274}, defs);
  node('rect', {x:0, y:0, width:2067, height:1274, fill:'#fff'}, m);
  labels.forEach(l => {
    const w = l[0].length * 9.4 + 8, cx = ax.x(l[1]), cy = ax.y(l[2]), rot = l[3] || 0;
    node('rect', {x:cx-w/2, y:cy-8, width:w, height:16, fill:'#000', transform:'rotate('+rot+' '+cx+' '+cy+')'}, m);
  });
  return id;
}
function drawContours(ax, contours, labels, stroke, width, dash, name, group){
  const g = node('g', {mask:'url(#'+labelMask(ax, labels)+')', fill:'none', stroke, 'stroke-width':width, 'stroke-linejoin':'round', 'stroke-linecap':'round'}, group);
  contours.forEach(pts => {
    const line = node('path', {d:contourPath(ax, pts)}, g);
    if (dash) line.setAttribute('stroke-dasharray', dash);
    
    
  });
}
function drawContourLabels(ax, labels, fill, name, group){
  labels.forEach(l => {
    const cx = ax.x(l[1]), cy = ax.y(l[2]), rot = l[3] || 0;
    const t = node('text', {x:cx, y:cy+6, fill, 'font-size':16, 'text-anchor':'middle', transform:'rotate('+rot+' '+cx+' '+cy+')'}, group);
    t.textContent = l[0];
    
    
  });
}
function drawGrid(ax, stroke, width, dash, group){
  lonTicks.forEach(lon => {
    const gl = node('line', {x1:ax.x(lon), x2:ax.x(lon), y1:ax.top, y2:ax.bottom, stroke, 'stroke-width':width, 'stroke-dasharray':dash}, group);
    
    
  });
  latTicks.forEach(lat => {
    const gl = node('line', {x1:ax.left, x2:ax.right, y1:ax.y(lat), y2:ax.y(lat), stroke, 'stroke-width':width, 'stroke-dasharray':dash}, group);
    
    
  });
}
function drawAxisLabels(ax, lonBaseline, latMode, group){
  lonTicks.forEach((lon,i) => {
    const t = node('text', {x:ax.x(lon), y:lonBaseline, 'font-size':15.6, fill:'#000', 'text-anchor':'middle'}, group);
    t.textContent = lonTickLabels[i];
    
    
  });
  if (!latMode) return;
  latTicks.forEach((lat,i) => {
    const t = latMode === 'left'
      ? node('text', {x:ax.left-10.5, y:ax.y(lat)+5, 'font-size':15.6, fill:'#000', 'text-anchor':'end'}, group)
      : node('text', {x:ax.right+10.5, y:ax.y(lat)+5, 'font-size':15.6, fill:'#000', 'text-anchor':'start'}, group);
    t.textContent = latTickLabels[i];
    
    
  });
}
let clipCount = 0;
function panelGroup(ax, name){
  const g = node('g', {});
  
  
  const id = 'plot-clip-' + (++clipCount);
  const c = node('clipPath', {id}, defs);
  node('rect', {x:ax.left, y:ax.top, width:ax.right-ax.left, height:ax.bottom-ax.top}, c);
  const plot = node('g', {'clip-path':'url(#'+id+')'}, g);
  return {g, plot};
}
function frame(ax, group){
  const f = node('rect', {x:ax.left, y:ax.top, width:ax.right-ax.left, height:ax.bottom-ax.top, fill:'none', stroke:'#111', 'stroke-width':2}, group);
  
  
}
function drawColorbar(left, right, top, bottom, stops, ticks, tickBaseline, labelX, labelBaseline, name){
  const min = stops[0][0], max = stops[stops.length-1][0];
  const id = name + '-gradient';
  const grad = node('linearGradient', {id, x1:0, x2:1, y1:0, y2:0}, defs);
  stops.forEach(s => node('stop', {offset:(s[0]-min)/(max-min), 'stop-color':s[1]}, grad));
  const g = node('g', {});
  
  
  const bar = node('rect', {x:left, y:top, width:right-left, height:bottom-top, fill:'url(#'+id+')', stroke:'#1a1a1a', 'stroke-width':1.8}, g);
  
  
  const xOf = v => left + (v - min) / (max - min) * (right - left);
  ticks.forEach(v => {
    const tick = node('line', {x1:xOf(v), x2:xOf(v), y1:bottom, y2:bottom+8, stroke:'#111', 'stroke-width':1.3}, g);
    
    
    const t = node('text', {x:xOf(v), y:tickBaseline, 'font-size':19.5, fill:'#000', 'text-anchor':'middle'}, g);
    t.textContent = String(v);
    
    
  });
  const lab = node('text', {x:labelX, y:labelBaseline, 'font-size':20.4, fill:'#000'}, g);
  
  
  lab.innerHTML = 'eke/kg (<tspan font-style="italic">m</tspan><tspan font-size="14.5" dy="-8">2</tspan><tspan font-style="italic" dy="8">/s</tspan><tspan font-size="14.5" dy="-8">2</tspan><tspan dy="8">)</tspan>';
}

/* panel 1 */
const ax1 = makeAxes(65.3, 1005.3, 47.6, 518.4);
const p1 = panelGroup(ax1, 'panel-r2b05');
drawHeat(ax1, ekeLats, ekeLons, ekeR2B05, ekeStops, p1.plot);
drawLattice(ax1, p1.plot);
drawGrid(ax1, 'rgba(255,255,255,0.9)', 1.2, '3 2.4', p1.plot);
drawContours(ax1, thetaContours, thetaLabels, '#1a8ae6', 2, null, 'theta-contour', p1.plot);
drawContours(ax1, windR2B05, windLabelsR2B05, '#ffffff', 2.2, null, 'wind-contour', p1.plot);
drawContourLabels(ax1, thetaLabels, '#1a8ae6', 'theta-contour-label', p1.plot);
drawContourLabels(ax1, windLabelsR2B05, '#ffffff', 'wind-contour-label', p1.plot);
frame(ax1, p1.g);
drawAxisLabels(ax1, 541, 'left', p1.g);
drawColorbar(81, 774.7, 566, 594.7, ekeStops, ekeBarTicks, 625, 804.5, 586, 'colorbar-r2b05');

/* panel 2 */
const ax2 = makeAxes(1101.6, 2042.7, 47.6, 518.4);
const p2 = panelGroup(ax2, 'panel-r2b10');
drawHeat(ax2, ekeLats, ekeLons, ekeR2B10, ekeStops, p2.plot);
drawLattice(ax2, p2.plot);
drawGrid(ax2, 'rgba(255,255,255,0.9)', 1.2, '3 2.4', p2.plot);
drawContours(ax2, thetaContours, thetaLabels, '#1a8ae6', 2, null, 'theta-contour', p2.plot);
drawContours(ax2, windR2B10, windLabelsR2B10, '#ffffff', 2.2, null, 'wind-contour', p2.plot);
drawContourLabels(ax2, thetaLabels, '#1a8ae6', 'theta-contour-label', p2.plot);
drawContourLabels(ax2, windLabelsR2B10, '#ffffff', 'wind-contour-label', p2.plot);
frame(ax2, p2.g);
drawAxisLabels(ax2, 541, null, p2.g);
drawColorbar(1137, 1831, 566, 594.7, ekeStops, ekeBarTicks, 625, 1861, 586, 'colorbar-r2b10');

/* panel 3 */
const ax3 = makeAxes(592.5, 1495.6, 714.9, 1167.3);
const p3 = panelGroup(ax3, 'panel-difference');
drawHeat(ax3, diffLats, diffLons, diffField, diffStops, p3.plot);
drawGrid(ax3, 'rgba(110,110,110,0.85)', 1, '3.5 2.2', p3.plot);
drawContours(ax3, diffSolid, diffGrayLabels, '#778383', 2.1, null, 'difference-contour', p3.plot);
drawContours(ax3, diffDashed, diffGrayLabels, '#778383', 2.1, '7 4', 'negative-difference-contour', p3.plot);
drawContours(ax3, thetaContours, thetaLabels, '#000000', 2, null, 'theta-contour', p3.plot);
drawContourLabels(ax3, diffGrayLabels, '#778383', 'difference-contour-label', p3.plot);
drawContourLabels(ax3, thetaLabels, '#000000', 'theta-contour-label', p3.plot);
focusCircles.forEach(c => {
  const circle = node('ellipse', {cx:ax3.x(c[0]), cy:ax3.y(c[1]), rx:ax3.x(c[2])-ax3.x(0), ry:ax3.y(0)-ax3.y(c[3]), fill:'none', stroke:'#0f2c3e', 'stroke-width':4.2}, p3.plot);
  
  
});
frame(ax3, p3.g);
drawAxisLabels(ax3, 1190, 'right', p3.g);
drawColorbar(629.5, 1323.4, 1214.7, 1243.7, diffStops, diffBarTicks, 1272, 1354, 1234, 'colorbar-difference');
</script>
</body>
</html>
